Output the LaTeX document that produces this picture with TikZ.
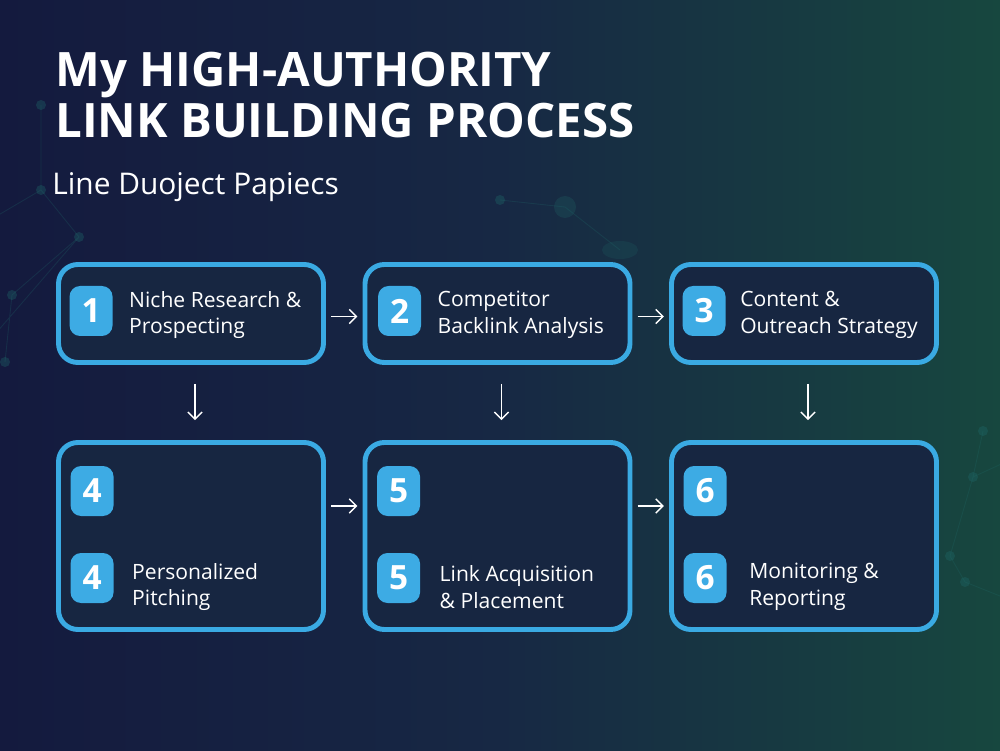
\documentclass[tikz,border=0pt]{standalone}
\usepackage{fontspec}
\setmainfont{Open Sans}
\usetikzlibrary{arrows.meta, positioning}
\definecolor{bgnavy}{HTML}{141A3E}
\definecolor{bgmid}{HTML}{172844}
\definecolor{bgteal}{HTML}{17473F}
\definecolor{boxfill}{HTML}{172641}
\definecolor{boxline}{HTML}{3AAAE3}
\definecolor{badgeblue}{HTML}{3DABE4}
\definecolor{netdot}{HTML}{1F6A6A}
\tikzset{
    stepbox/.style={draw=boxline, line width=2.8pt, fill=boxfill, rounded corners=11pt,
        minimum width=5.3cm, inner sep=0pt},
    toprow/.style={stepbox, minimum height=1.96cm},
    botrow/.style={stepbox, minimum height=3.74cm},
    badge/.style={fill=badgeblue, rounded corners=6pt, minimum width=0.86cm, minimum height=1cm,
        inner sep=0pt, text=white, font=\fontsize{19}{19}\selectfont\bfseries},
    steptext/.style={anchor=west, text=white, align=left, inner sep=0pt,
        font=\fontsize{12}{15.2}\selectfont},
    flow/.style={draw=white, line width=0.8pt, -{Straight Barb[length=4pt, width=8pt]}},
    net/.style={draw=netdot, line width=0.5pt, opacity=0.25},
    netnode/.style={fill=netdot, opacity=0.35}
}
\begin{document}
\begin{tikzpicture}
    % background
    \shade[left color=bgnavy, right color=bgteal, middle color=bgmid] (0,0) rectangle (20,15);
    \useasboundingbox (0,0) rectangle (20,15);
    % faint network
    \coordinate (p1) at (0.82,12.9);
    \coordinate (p2) at (0.82,11.2);
    \coordinate (p3) at (1.58,10.26);
    \coordinate (p4) at (0.24,9.1);
    \coordinate (p5) at (0.1,7.76);
    \coordinate (q1) at (10.0,11.0);
    \coordinate (q2) at (11.3,10.86);
    \coordinate (q3) at (12.4,10.0);
    \coordinate (r1) at (19.66,6.38);
    \coordinate (r2) at (19.46,5.46);
    \coordinate (r3) at (19.0,3.88);
    \coordinate (r4) at (19.3,3.36);
    \draw[net] (p1) -- (p2) -- (p3) -- (p4) -- (p5) (p2) -- (-0.2,10.6) (p3) -- (-0.2,8.2);
    \draw[net] (q1) -- (q2) -- (q3);
    \draw[net] (r1) -- (r2) -- (r3) -- (r4) (r2) -- (20.2,5.8) (r4) -- (20.2,3.0);
    \foreach \p in {p1,p2,p3,p4,p5,q1,r1,r2,r3,r4}
        \fill[netnode] (\p) circle (0.1);
    \fill[netnode, opacity=0.25] (q2) circle (0.22);
    \fill[netnode, opacity=0.2] (q3) ellipse (0.36 and 0.18);
    % title
    \node[anchor=base west, text=white, inner sep=0pt,
        font=\fontsize{27}{27}\selectfont\bfseries] (title) at (1.1,13.26) {My HIGH-AUTHORITY};
    \node[anchor=base west, text=white, inner sep=0pt,
        font=\fontsize{27}{27}\selectfont\bfseries] (title2) at (1.1,12.24) {LINK BUILDING PROCESS};
    \node[anchor=base west, text=white, inner sep=0pt,
        font=\fontsize{17}{17}\selectfont] (subtitle) at (1.04,11.1) {Line Duoject Papiecs};
    % step boxes
    \node[toprow] (b1) at (3.82,8.73) {};
    \node[toprow] (b2) at (9.95,8.73) {};
    \node[toprow] (b3) at (16.08,8.73) {};
    \node[botrow] (b4) at (3.82,4.28) {};
    \node[botrow] (b5) at (9.95,4.28) {};
    \node[botrow] (b6) at (16.08,4.28) {};
    % badges
    \node[badge] (n1) at ([xshift=0.7cm,yshift=0.05cm]b1.west) {1};
    \node[badge] (n2) at ([xshift=0.74cm,yshift=0.05cm]b2.west) {2};
    \node[badge] (n3) at ([xshift=0.7cm,yshift=0.05cm]b3.west) {3};
    \foreach \b/\k in {b4/4,b5/5,b6/6}{
        \node[badge] (t\k) at ([xshift=0.72cm,yshift=0.9cm]\b.west) {\k};
        \node[badge] (n\k) at ([xshift=0.72cm,yshift=-0.84cm]\b.west) {\k};
    }
    % step labels
    \node[steptext, right=0.32cm of n1, yshift=-0.08cm] (l1) {Niche Research \&\\ Prospecting};
    \node[steptext, right=0.32cm of n2, yshift=-0.08cm] (l2) {Competitor\\ Backlink Analysis};
    \node[steptext, right=0.28cm of n3, yshift=-0.08cm] (l3) {Content \&\\Outreach Strategy};
    \node[steptext, right=0.36cm of n4, yshift=-0.18cm] (l4) {Personalized\\Pitching};
    \node[steptext, right=0.38cm of n5, yshift=-0.18cm] (l5) {Link Acquisition\\\& Placement};
    \node[steptext, right=0.44cm of n6, yshift=-0.18cm] (l6) {Monitoring \&\\Reporting};
    % connectors
    \draw[flow, shorten <=3pt, shorten >=3pt] ([yshift=-0.06cm]b1.east) -- ([yshift=-0.06cm]b2.west);
    \draw[flow, shorten <=3pt, shorten >=3pt] ([yshift=-0.06cm]b2.east) -- ([yshift=-0.06cm]b3.west);
    \draw[flow, shorten <=3pt, shorten >=3pt] ([yshift=0.6cm]b4.east) -- ([yshift=0.6cm]b5.west);
    \draw[flow, shorten <=3pt, shorten >=3pt] ([yshift=0.6cm]b5.east) -- ([yshift=0.6cm]b6.west);
    \foreach \u/\d in {b1/b4,b2/b5,b3/b6}
        \draw[flow, shorten <=0.38cm, shorten >=0.4cm] ([xshift=0.08cm]\u.south) -- ([xshift=0.08cm]\d.north);
\end{tikzpicture}
\end{document}
